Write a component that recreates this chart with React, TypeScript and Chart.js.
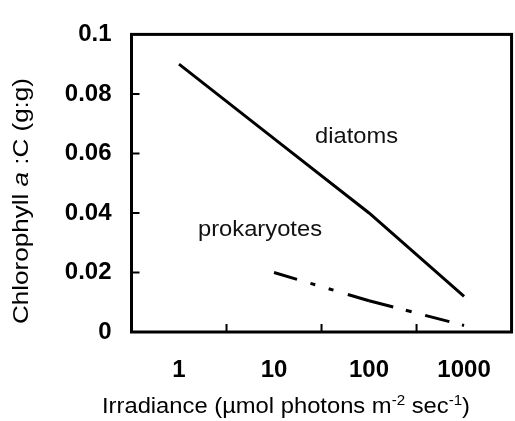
import React, { useEffect, useRef } from 'react';
import { Chart, registerables } from 'chart.js';

Chart.register(...registerables);

// ---- data ----
const categories = ['1', '10', '100', '1000'];
const diatoms = [0.09, 0.065, 0.04, 0.012];
const prokaryotes = [null, 0.02, 0.0105, 0.0022];
const yTicks = [0, 0.02, 0.04, 0.06, 0.08, 0.1];
const yTickLabels = ['0', '0.02', '0.04', '0.06', '0.08', '0.1'];
const seriesNames = ['diatoms', 'prokaryotes'];

const FONT = '"Liberation Sans", Arial, Helvetica, sans-serif';

type Run = { text: string; font: string; dy?: number };

function drawRuns(ctx: CanvasRenderingContext2D, runs: Run[], x: number, y: number, targetWidth: number) {
  let total = 0;
  const widths: number[] = [];
  for (const r of runs) {
    ctx.font = r.font;
    const w = ctx.measureText(r.text).width;
    widths.push(w);
    total += w;
  }
  const s = targetWidth / total;
  ctx.save();
  ctx.translate(x, y);
  ctx.scale(s, 1);
  let cx = 0;
  runs.forEach((r, i) => {
    ctx.font = r.font;
    ctx.fillText(r.text, cx, r.dy || 0);
    cx += widths[i];
  });
  ctx.restore();
}

const decorPlugin = {
  id: 'decor',
  afterDraw(chart: any) {
    const { ctx, chartArea: a, scales } = chart;
    ctx.save();
    ctx.strokeStyle = '#000';
    ctx.lineWidth = 3;
    ctx.strokeRect(a.left, a.top, a.right - a.left, a.bottom - a.top);
    ctx.lineWidth = 2;
    ctx.beginPath();
    for (const v of yTicks) {
      if (v === yTicks[0] || v === yTicks[yTicks.length - 1]) continue;
      const py = scales.y.getPixelForValue(v);
      ctx.moveTo(a.left, py);
      ctx.lineTo(a.left + 8, py);
    }
    for (let i = 0; i < categories.length - 1; i++) {
      const px = (scales.x.getPixelForValue(i) + scales.x.getPixelForValue(i + 1)) / 2;
      ctx.moveTo(px, a.bottom);
      ctx.lineTo(px, a.bottom - 8);
    }
    ctx.stroke();

    ctx.fillStyle = '#111';
    ctx.textBaseline = 'alphabetic';
    ctx.textAlign = 'left';
    // series annotations
    drawRuns(ctx, [{ text: seriesNames[0], font: `22px ${FONT}` }], 315, 143, 83);
    drawRuns(ctx, [{ text: seriesNames[1], font: `22px ${FONT}` }], 198, 236, 124);

    // x title
    ctx.fillStyle = '#000';
    drawRuns(
      ctx,
      [
        { text: 'Irradiance (\u00b5mol photons m', font: `22px ${FONT}` },
        { text: '-2', font: `14px ${FONT}`, dy: -8 },
        { text: ' sec', font: `22px ${FONT}` },
        { text: '-1', font: `14px ${FONT}`, dy: -8 },
        { text: ')', font: `22px ${FONT}` },
      ],
      102,
      413,
      368
    );

    // y title
    ctx.save();
    ctx.translate(27.5, 324);
    ctx.rotate(-Math.PI / 2);
    drawRuns(
      ctx,
      [
        { text: 'Chlorophyll ', font: `22px ${FONT}` },
        { text: 'a', font: `italic 22px ${FONT}` },
        { text: ' :C (g:g)', font: `22px ${FONT}` },
      ],
      0,
      0,
      246
    );
    ctx.restore();
    ctx.restore();
  },
};

export default function App() {
  const ref = useRef<HTMLCanvasElement>(null);
  useEffect(() => {
    if (!ref.current) return;
    const chart = new Chart(ref.current, {
      type: 'line',
      data: {
        labels: categories,
        datasets: [
          {
            label: seriesNames[0],
            data: diatoms,
            borderColor: '#000',
            borderWidth: 3,
            pointRadius: 0,
            fill: false,
            tension: 0,
          },
          {
            label: seriesNames[1],
            data: prokaryotes as any,
            borderColor: '#000',
            borderWidth: 3,
            pointRadius: 0,
            fill: false,
            tension: 0,
            segment: {
              borderDash: (c: any) => (c.p0DataIndex === 1 ? [24, 14, 5, 14, 5, 15] : [25, 13, 6, 14]),
            },
          },
        ],
      },
      options: {
        responsive: false,
        animation: false,
        layout: { padding: { top: 20, right: 2, left: 0, bottom: 0 } },
        plugins: { legend: { display: false }, tooltip: { enabled: false } },
        scales: {
          x: {
            type: 'category',
            offset: true,
            grid: { display: false, drawTicks: false, offset: true },
            border: { display: false },
            ticks: { color: '#000', font: { family: FONT, size: 24, weight: 'bold' }, padding: 24, maxRotation: 0 },
            afterFit: (s: any) => {
              s.height = 89;
            },
          },
          y: {
            min: 0,
            max: 0.1,
            grid: { display: false, drawTicks: false },
            border: { display: false },
            ticks: {
              stepSize: 0.02,
              color: '#000',
              font: { family: FONT, size: 24, weight: 'bold' },
              padding: 20,
              callback: (v: any) => {
                const i = yTicks.findIndex((t) => Math.abs(t - Number(v)) < 1e-9);
                return i >= 0 ? yTickLabels[i] : '';
              },
            },
            afterFit: (s: any) => {
              s.width = 131.5;
            },
          },
        },
      },
      plugins: [decorPlugin],
    });
    return () => chart.destroy();
  }, []);
  return (
    <div style={{ position: 'fixed', left: 0, top: 0, width: 515, height: 421, background: '#fff' }}>
      <canvas ref={ref} width={515} height={421} style={{ display: 'block' }} />
    </div>
  );
}
